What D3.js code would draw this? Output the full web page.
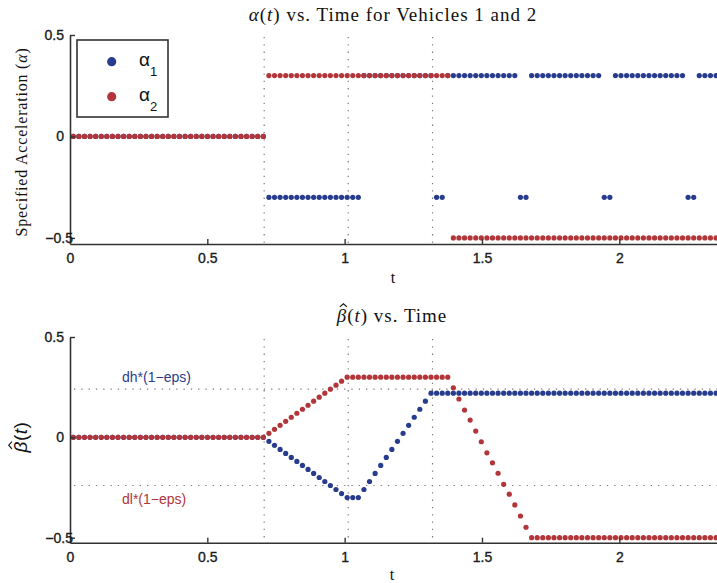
<!DOCTYPE html>
<html><head><meta charset="utf-8">
<script src="https://cdn.jsdelivr.net/npm/d3@7"></script>
<style>
html,body{margin:0;padding:0;background:#fff;overflow:hidden}
</style></head><body>
<svg id="chart" width="717" height="583"></svg>
<script>
// ---- data ----
const tStart = 0.012, tStep = 0.02035;        // sampling grid of the simulation
const xTicks = [0, 0.5, 1, 1.5, 2];
const yTicks = [-0.5, 0, 0.5];
const decisionTimes = [0.707, 1.013, 1.320];   // vertical dotted lines
const thresholds = [0.24, -0.24];              // dh*(1-eps), dl*(1-eps)
const thresholdLabels = ["dh*(1\u2212eps)", "dl*(1\u2212eps)"];

// alpha_1 (vehicle 1, blue)
const alpha1 = [
  0,0,0,0,0,0,0,0,0,0, 0,0,0,0,0,0,0,0,0,0, 0,0,0,0,0,0,0,0,0,0, 0,0,0,0,0,
  -0.3,-0.3,-0.3,-0.3,-0.3,-0.3,-0.3,-0.3,-0.3,-0.3, -0.3,-0.3,-0.3,-0.3,-0.3,-0.3,-0.3,
  0.3,0.3,0.3,0.3,0.3,0.3,0.3,0.3,0.3,0.3,0.3,0.3,0.3,
  -0.3,-0.3,
  0.3,0.3,0.3,0.3,0.3,0.3,0.3,0.3,0.3,0.3,0.3,0.3,0.3,
  -0.3,-0.3,
  0.3,0.3,0.3,0.3,0.3,0.3,0.3,0.3,0.3,0.3,0.3,0.3,0.3,
  -0.3,-0.3,
  0.3,0.3,0.3,0.3,0.3,0.3,0.3,0.3,0.3,0.3,0.3,0.3,0.3,
  -0.3,-0.3,
  0.3,0.3,0.3,0.3
];
// alpha_2 (vehicle 2, red)
const alpha2 = [
  0,0,0,0,0,0,0,0,0,0, 0,0,0,0,0,0,0,0,0,0, 0,0,0,0,0,0,0,0,0,0, 0,0,0,0,0,
  0.3,0.3,0.3,0.3,0.3,0.3,0.3,0.3,0.3,0.3, 0.3,0.3,0.3,0.3,0.3,0.3,0.3,0.3,0.3,0.3,
  0.3,0.3,0.3,0.3,0.3,0.3,0.3,0.3,0.3,0.3, 0.3,0.3,0.3,
  -0.5,-0.5,-0.5,-0.5,-0.5,-0.5,-0.5,-0.5,-0.5,-0.5, -0.5,-0.5,-0.5,-0.5,-0.5,-0.5,-0.5,-0.5,-0.5,-0.5,
  -0.5,-0.5,-0.5,-0.5,-0.5,-0.5,-0.5,-0.5,-0.5,-0.5, -0.5,-0.5,-0.5,-0.5,-0.5,-0.5,-0.5,-0.5,-0.5,-0.5,
  -0.5,-0.5,-0.5,-0.5,-0.5,-0.5,-0.5,-0.5
];
// beta-hat for vehicle 1 (blue)
const beta1 = [
  0,0,0,0,0,0,0,0,0,0, 0,0,0,0,0,0,0,0,0,0, 0,0,0,0,0,0,0,0,0,0, 0,0,0,0,0,
  -0.02,-0.04,-0.06,-0.08,-0.10,-0.12,-0.14,-0.16,-0.18,-0.20,-0.22,-0.24,-0.26,-0.28,
  -0.30,-0.30,-0.30,
  -0.26,-0.22,-0.18,-0.14,-0.10,-0.06,-0.02,0.02,0.06,0.10,0.14,0.18,
  0.22,0.22,0.22,0.22,0.22,0.22,0.22,0.22,0.22,0.22, 0.22,0.22,0.22,0.22,0.22,0.22,0.22,0.22,0.22,0.22,
  0.22,0.22,0.22,0.22,0.22,0.22,0.22,0.22,0.22,0.22, 0.22,0.22,0.22,0.22,0.22,0.22,0.22,0.22,0.22,0.22,
  0.22,0.22,0.22,0.22,0.22,0.22,0.22,0.22,0.22,0.22, 0.22,0.22
];
// beta-hat for vehicle 2 (red)
const beta2 = [
  0,0,0,0,0,0,0,0,0,0, 0,0,0,0,0,0,0,0,0,0, 0,0,0,0,0,0,0,0,0,0, 0,0,0,0,0,
  0.02,0.04,0.06,0.08,0.10,0.12,0.14,0.16,0.18,0.20,0.22,0.24,0.26,0.28,
  0.30,0.30,0.30,0.30,0.30,0.30,0.30,0.30,0.30,0.30, 0.30,0.30,0.30,0.30,0.30,0.30,0.30,0.30,0.30,
  0.247,0.191,0.136,0.086,0.031,-0.022,-0.077,-0.127,-0.179,-0.234,-0.283,-0.337,-0.392,-0.448,
  -0.5,-0.5,-0.5,-0.5,-0.5,-0.5,-0.5,-0.5,-0.5,-0.5, -0.5,-0.5,-0.5,-0.5,-0.5,-0.5,-0.5,-0.5,-0.5,-0.5,
  -0.5,-0.5,-0.5,-0.5,-0.5,-0.5,-0.5,-0.5,-0.5,-0.5, -0.5,-0.5,-0.5,-0.5
];
const times = alpha1.map((_, k) => tStart + k * tStep);

// ---- styles ----
const BLUE = "#283c8e", RED = "#b2353a", AXIS = "#333", GRID = "#7a7a7a";
const SANS = "'Liberation Sans', Arial, sans-serif";
const SERIF = "'Liberation Serif', 'Times New Roman', serif";

const svg = d3.select("#chart");
const x = d3.scaleLinear().domain([0, 2.4]).range([70, 70 + 274.65 * 2.4]);
const yTop = d3.scaleLinear().domain([-0.53, 0.5]).range([244, 35]);
const yBot = d3.scaleLinear().domain([-0.525, 0.5]).range([542.7, 337]);
const fmt = d => (d < 0 ? "\u2212" + String(-d) : String(d));

function panel(y, s1, s2, withThresholds) {
  const g = svg.append("g");
  const [yb, yt] = y.range();
  g.selectAll("line.v").data(decisionTimes).join("line")
    .attr("x1", d => x(d)).attr("x2", d => x(d))
    .attr("y1", yt + 2).attr("y2", yb)
    .attr("stroke", GRID).attr("stroke-width", 1.2).attr("stroke-dasharray", "1.3 6");
  if (withThresholds) {
    g.selectAll("line.h").data(thresholds).join("line")
      .attr("x1", x(0) + 4).attr("x2", 717)
      .attr("y1", d => y(d)).attr("y2", d => y(d))
      .attr("stroke", GRID).attr("stroke-width", 1.2).attr("stroke-dasharray", "1.3 6");
  }
  [[s1, BLUE], [s2, RED]].forEach(([vals, col]) => {
    g.append("g").selectAll("circle").data(vals).join("circle")
      .attr("cx", (d, i) => x(times[i])).attr("cy", d => y(d))
      .attr("r", 2.6).attr("fill", col);
  });
  const ax = g.append("g").attr("transform", `translate(0,${yb})`)
    .call(d3.axisBottom(x).tickValues(xTicks).tickFormat(fmt).tickSize(-5).tickSizeOuter(0).tickPadding(9));
  const ay = g.append("g").attr("transform", `translate(${x(0)},0)`)
    .call(d3.axisLeft(y).tickValues(yTicks).tickFormat(fmt).tickSize(-5).tickSizeOuter(0).tickPadding(6));
  [ax, ay].forEach(a => {
    a.select(".domain").attr("stroke", AXIS).attr("stroke-width", 1.6);
    a.selectAll(".tick line").attr("stroke", AXIS).attr("stroke-width", 1.4);
    a.selectAll(".tick text").attr("fill", "#1a1a1a").attr("stroke", "#1a1a1a").attr("stroke-width", 0.35)
      .style("font-family", SANS).style("font-size", "14px");
  });
  ax.selectAll(".tick").filter(d => d === 0).select("line").remove();
  ay.selectAll(".tick text").filter(d => d === -0.5).attr("x", 3);
  return g;
}

panel(yTop, alpha1, alpha2, false);
panel(yBot, beta1, beta2, true);

// threshold labels
svg.append("text").attr("x", 122).attr("y", 382).attr("fill", BLUE)
  .style("font-family", SANS).style("font-size", "14px").text(thresholdLabels[0]);
svg.append("text").attr("x", 122).attr("y", 504).attr("fill", RED)
  .style("font-family", SANS).style("font-size", "14px").text(thresholdLabels[1]);

// hat over the first character of a text element (drawn in the same coordinate frame)
function addHat(parent, textSel, fs, shift) {
  const e = textSel.node().getExtentOfChar(0);
  const bb = textSel.node().getBBox();
  const cx = e.x + e.width / 2 + shift;
  const baseline = +textSel.attr("y") || 0;
  const top = baseline - fs * 0.93;
  parent.append("path")
    .attr("d", `M${cx - 3.6},${top + 2.6} L${cx},${top - 0.6} L${cx + 3.6},${top + 2.6}`)
    .attr("fill", "none").attr("stroke", "#111").attr("stroke-width", 1.1);
}

// titles
const t1 = svg.append("text").attr("x", 393).attr("y", 21).attr("text-anchor", "middle")
  .style("font-family", SERIF).style("font-size", "19px").style("letter-spacing", "1px").attr("fill", "#111");
t1.append("tspan").style("font-style", "italic").text("\u03b1");
t1.append("tspan").text("(");
t1.append("tspan").style("font-style", "italic").text("t");
t1.append("tspan").text(") vs. Time for Vehicles 1 and 2");

const t2 = svg.append("text").attr("x", 392).attr("y", 322).attr("text-anchor", "middle")
  .style("font-family", SERIF).style("font-size", "19px").style("letter-spacing", "1px").attr("fill", "#111");
t2.append("tspan").style("font-style", "italic").text("\u03b2");
t2.append("tspan").text("(");
t2.append("tspan").style("font-style", "italic").text("t");
t2.append("tspan").text(") vs. Time");
addHat(svg, t2, 19, 1.5);

// axis labels
svg.append("text").attr("x", 393).attr("y", 283).attr("text-anchor", "middle")
  .style("font-family", SERIF).style("font-size", "16px").attr("fill", "#111").text("t");
svg.append("text").attr("x", 392).attr("y", 580).attr("text-anchor", "middle")
  .style("font-family", SERIF).style("font-size", "16px").attr("fill", "#111").text("t");

const yl1 = svg.append("text").attr("transform", "translate(27,142) rotate(-90)").attr("text-anchor", "middle")
  .style("font-family", SERIF).style("font-size", "16px").style("letter-spacing", "0.8px").attr("fill", "#111");
yl1.append("tspan").text("Specified Acceleration (");
yl1.append("tspan").style("font-style", "italic").text("\u03b1");
yl1.append("tspan").text(")");

const yl2g = svg.append("g").attr("transform", "translate(27,437) rotate(-90)");
const yl2 = yl2g.append("text").attr("x", 0).attr("y", 0).attr("text-anchor", "middle")
  .style("font-family", SANS).style("font-size", "19px").style("letter-spacing", "0.5px").attr("fill", "#111");
yl2.append("tspan").style("font-style", "italic").text("\u03b2");
yl2.append("tspan").text("(");
yl2.append("tspan").style("font-style", "italic").text("t");
yl2.append("tspan").text(")");
addHat(yl2g, yl2, 19, 1.5);

// legend
const lg = svg.append("g");
lg.append("rect").attr("x", 77).attr("y", 40).attr("width", 91).attr("height", 77)
  .attr("fill", "#fff").attr("stroke", AXIS).attr("stroke-width", 1.6);
[[BLUE, "1", 61.7], [RED, "2", 96.7]].forEach(([col, sub, cy]) => {
  lg.append("circle").attr("cx", 111.7).attr("cy", cy).attr("r", 4.6).attr("fill", col);
  const tx = lg.append("text").attr("x", 139).attr("y", cy + 4)
    .style("font-family", SANS).style("font-size", "19px").attr("fill", "#111");
  tx.append("tspan").text("\u03b1");
  tx.append("tspan").attr("dy", 10).style("font-size", "13px").text(sub);
});
</script>
</body></html>
